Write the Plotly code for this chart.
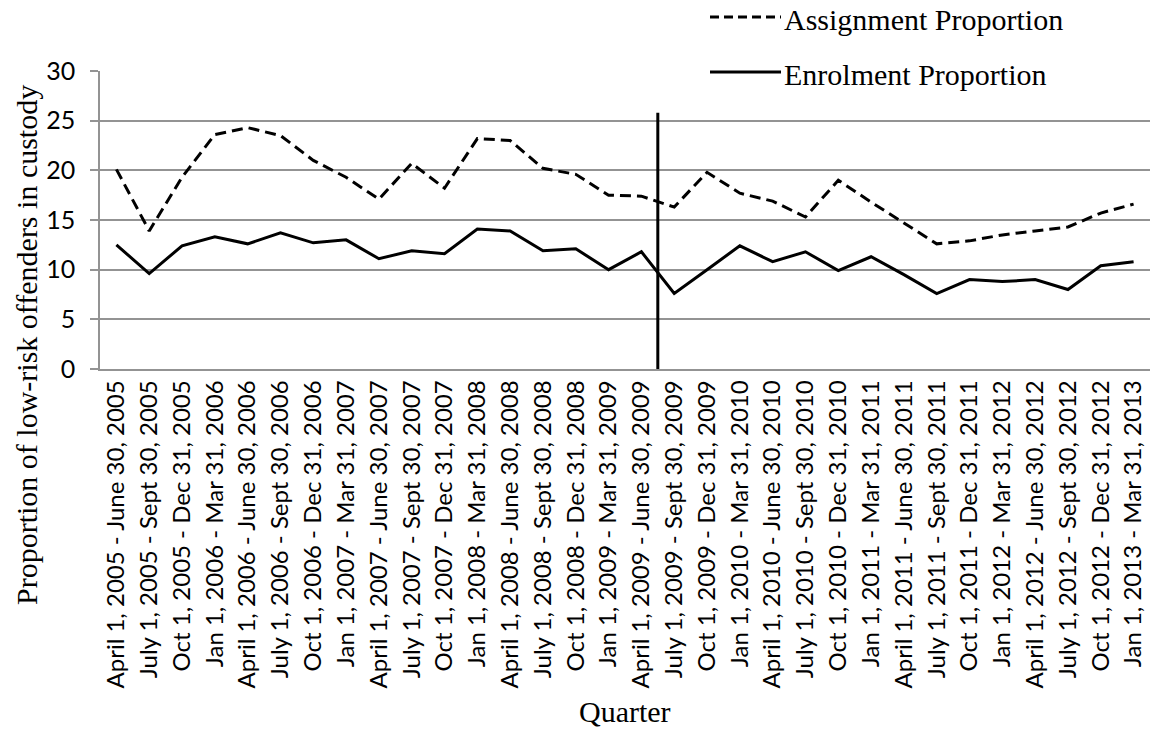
import plotly.graph_objects as go

quarters = [
    "April 1, 2005 - June 30, 2005", "July 1, 2005 - Sept 30, 2005", "Oct 1, 2005 - Dec 31, 2005",
    "Jan 1, 2006 - Mar 31, 2006", "April 1, 2006 - June 30, 2006", "July 1, 2006 - Sept 30, 2006",
    "Oct 1, 2006 - Dec 31, 2006", "Jan 1, 2007 - Mar 31, 2007", "April 1, 2007 - June 30, 2007",
    "July 1, 2007 - Sept 30, 2007", "Oct 1, 2007 - Dec 31, 2007", "Jan 1, 2008 - Mar 31, 2008",
    "April 1, 2008 - June 30, 2008", "July 1, 2008 - Sept 30, 2008", "Oct 1, 2008 - Dec 31, 2008",
    "Jan 1, 2009 - Mar 31, 2009", "April 1, 2009 - June 30, 2009", "July 1, 2009 - Sept 30, 2009",
    "Oct 1, 2009 - Dec 31, 2009", "Jan 1, 2010 - Mar 31, 2010", "April 1, 2010 - June 30, 2010",
    "July 1, 2010 - Sept 30, 2010", "Oct 1, 2010 - Dec 31, 2010", "Jan 1, 2011 - Mar 31, 2011",
    "April 1, 2011 - June 30, 2011", "July 1, 2011 - Sept 30, 2011", "Oct 1, 2011 - Dec 31, 2011",
    "Jan 1, 2012 - Mar 31, 2012", "April 1, 2012 - June 30, 2012", "July 1, 2012 - Sept 30, 2012",
    "Oct 1, 2012 - Dec 31, 2012", "Jan 1, 2013 - Mar 31, 2013",
]

assignment = [20.1, 13.9, 19.3, 23.6, 24.3, 23.5, 21.0, 19.3, 17.1, 20.7, 18.2, 23.2,
              23.0, 20.2, 19.6, 17.5, 17.4, 16.3, 19.8, 17.7, 16.9, 15.3, 19.0, 16.8,
              14.7, 12.6, 12.9, 13.5, 13.9, 14.3, 15.7, 16.6]

enrolment = [12.5, 9.6, 12.4, 13.3, 12.6, 13.7, 12.7, 13.0, 11.1, 11.9, 11.6, 14.1,
             13.9, 11.9, 12.1, 10.0, 11.8, 7.6, 10.0, 12.4, 10.8, 11.8, 9.9, 11.3,
             9.5, 7.6, 9.0, 8.8, 9.0, 8.0, 10.4, 10.8]

y_ticks = [0, 5, 10, 15, 20, 25, 30]
cutoff_position = 16.5
cutoff_top = 25.8

SERIF = "Liberation Serif, Times New Roman, serif"
SANS = "Lato, Carlito, Calibri, sans-serif"
GRID = "#939393"

W, H = 1151, 729
L, R, T, B = 100, 1, 71, 360
PW = W - L - R
PH = H - T - B


def px_x(px):
    return (px - L) / PW


def px_y(py):
    return (H - B - py) / PH


fig = go.Figure()
fig.add_trace(go.Scatter(x=quarters, y=assignment, mode="lines", name="Assignment Proportion",
                         line=dict(color="black", width=3, dash="11px,6px"), showlegend=False))
fig.add_trace(go.Scatter(x=quarters, y=enrolment, mode="lines", name="Enrolment Proportion",
                         line=dict(color="black", width=3), showlegend=False))

shapes = [
    dict(type="line", xref="x", yref="y", x0=cutoff_position, x1=cutoff_position, y0=0, y1=cutoff_top,
         line=dict(color="black", width=3)),
    dict(type="rect", xref="paper", yref="paper", x0=px_x(623), x1=1.01, y0=px_y(74), y1=px_y(0),
         fillcolor="white", line=dict(width=0), layer="above"),
    dict(type="line", xref="paper", yref="paper", x0=px_x(710), x1=px_x(781), y0=px_y(17), y1=px_y(17),
         line=dict(color="black", width=3, dash="9px,5px"), layer="above"),
    dict(type="line", xref="paper", yref="paper", x0=px_x(710), x1=px_x(781), y0=px_y(72), y1=px_y(72),
         line=dict(color="black", width=3), layer="above"),
]

annotations = [
    dict(text="Assignment Proportion", xref="paper", yref="paper", x=px_x(782), y=px_y(19),
         xanchor="left", yanchor="middle", showarrow=False, font=dict(family=SERIF, size=30, color="black")),
    dict(text="Enrolment Proportion", xref="paper", yref="paper", x=px_x(782), y=px_y(74),
         xanchor="left", yanchor="middle", showarrow=False, font=dict(family=SERIF, size=30, color="black")),
    dict(text="Quarter", xref="paper", yref="paper", x=0.5, y=px_y(711),
         xanchor="center", yanchor="middle", showarrow=False, font=dict(family=SERIF, size=30, color="black")),
    dict(text="Proportion of low-risk offenders in custody", xref="paper", yref="paper",
         x=px_x(26), y=px_y(345), textangle=-90, xanchor="center", yanchor="middle", showarrow=False,
         font=dict(family=SERIF, size=30, color="black")),
]

fig.update_layout(
    width=W, height=H,
    margin=dict(l=L, r=R, t=T, b=B),
    paper_bgcolor="white", plot_bgcolor="white",
    shapes=shapes, annotations=annotations,
    xaxis=dict(type="category", categoryorder="array", categoryarray=quarters,
               range=[-0.5, len(quarters) - 0.5], showgrid=False, zeroline=False,
               showline=True, linecolor=GRID, linewidth=1.5, ticks="", tickangle=-90,
               tickfont=dict(family=SANS, size=24, color="black")),
    yaxis=dict(range=[0, 30], tickvals=y_ticks, showgrid=True, gridcolor=GRID, gridwidth=1.5,
               zeroline=False, showline=True, linecolor=GRID, linewidth=1.5,
               ticks="outside", ticklen=8, tickcolor=GRID, tickwidth=1.5,
               tickfont=dict(family=SANS, size=25, color="black"), ticklabelstandoff=10),
)

fig.write_html("out.html", config={"displayModeBar": False},
               post_script="document.body.style.margin='0';document.body.style.padding='0';")
